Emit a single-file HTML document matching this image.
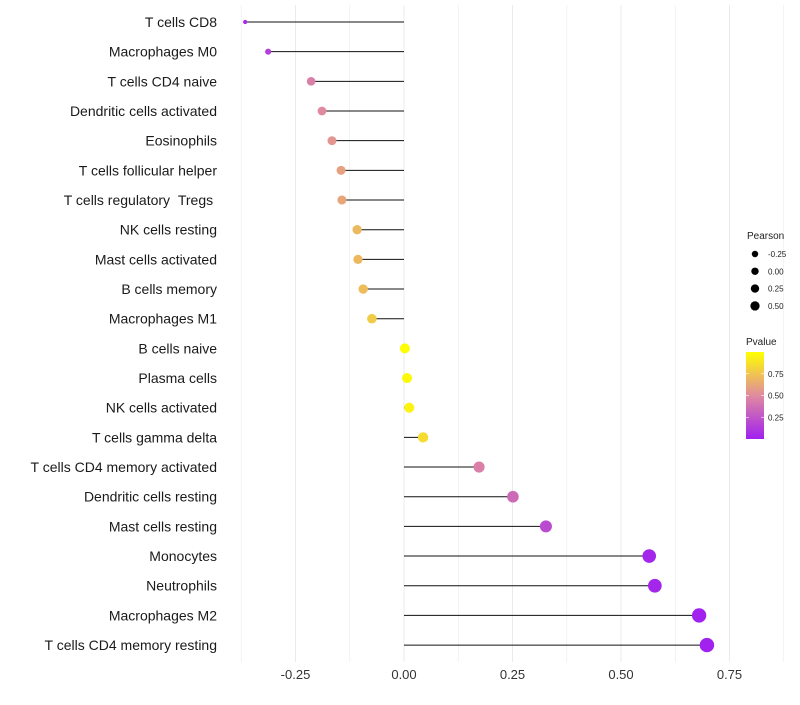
<!DOCTYPE html>
<html><head><meta charset="utf-8"><style>
body{margin:0;background:#fff;font-family:"Liberation Sans",sans-serif}
</style></head><body>
<svg id="c" width="800" height="700" xmlns="http://www.w3.org/2000/svg"></svg>
<script>
const categories=["T cells CD8","Macrophages M0","T cells CD4 naive","Dendritic cells activated","Eosinophils","T cells follicular helper","T cells regulatory\u00a0\u00a0Tregs\u00a0","NK cells resting","Mast cells activated","B cells memory","Macrophages M1","B cells naive","Plasma cells","NK cells activated","T cells gamma delta","T cells CD4 memory activated","Dendritic cells resting","Mast cells resting","Monocytes","Neutrophils","Macrophages M2","T cells CD4 memory resting"];
const pearson=[-0.366,-0.313,-0.214,-0.189,-0.166,-0.145,-0.143,-0.108,-0.106,-0.094,-0.074,0.002,0.007,0.012,0.044,0.173,0.251,0.327,0.565,0.578,0.68,0.698];
const pvalue=[0.05,0.15,0.45,0.5,0.55,0.6,0.62,0.7,0.7,0.72,0.78,0.99,0.97,0.95,0.85,0.45,0.35,0.2,0.03,0.03,0.01,0.01];
const xTicks=[-0.25,0,0.25,0.5,0.75];
const xTickLabels=["-0.25","0.00","0.25","0.50","0.75"];
const sizeLegend=[-0.25,0,0.25,0.5];
const sizeLegendLabels=["-0.25","0.00","0.25","0.50"];
const colorTicks=[0.75,0.5,0.25];
const colorTickLabels=["0.75","0.50","0.25"];

const NS="http://www.w3.org/2000/svg",svg=document.getElementById('c');
function el(t,a,p){const e=document.createElementNS(NS,t);for(const k in a)e.setAttribute(k,a[k]);(p||svg).appendChild(e);return e;}
const x=v=>404+v*434;
const y=i=>22+i*29.67;
const r=v=>Math.max(1.5,5+3.2*v-(v<-0.25?15*(-0.25-v):0));
function col(p){const stops=[[0,[160,32,240]],[0.5,[224,138,160]],[1,[255,255,0]]];
 let a=stops[0],b=stops[1];if(p>0.5){a=stops[1];b=stops[2];}
 const t=(p-a[0])/(b[0]-a[0]);const c=a[1].map((v,k)=>Math.round(v+(b[1][k]-v)*t));return `rgb(${c})`;}
for(let g=-0.375;g<=0.875;g+=0.125){const gl=el('line',{x1:x(g),x2:x(g),y1:5,y2:662,stroke:'#ebebeb','stroke-width':g*8%2==0?1:0.6});
}
xTicks.forEach((v,i)=>{const t=el('text',{x:x(v),y:679,'text-anchor':'middle','font-size':13,fill:'#333'});t.textContent=xTickLabels[i];
});
categories.forEach((c,i)=>{
 const t=el('text',{x:217,y:y(i)+5,'text-anchor':'end','font-size':14,fill:'#1a1a1a'});t.textContent=c;
 
 const l=el('line',{x1:x(0),x2:x(pearson[i]),y1:y(i),y2:y(i),stroke:'#111','stroke-width':1});
 
 const d=el('circle',{cx:x(pearson[i]),cy:y(i),r:r(pearson[i]),fill:col(pvalue[i])});
 
});
let t=el('text',{x:747,y:239,'font-size':10,fill:'#222'});t.textContent='Pearson';

sizeLegend.forEach((v,i)=>{const yy=254+i*17.3;
 const c=el('circle',{cx:755,cy:yy,r:3.7+1.9*v,fill:'#000'});
 const tt=el('text',{x:768,y:yy+3,'font-size':8,fill:'#222'});tt.textContent=sizeLegendLabels[i];
 });
t=el('text',{x:746,y:345,'font-size':10,fill:'#222'});t.textContent='Pvalue';

const defs=el('defs',{});const lg=el('linearGradient',{id:'g',x1:0,y1:1,x2:0,y2:0},defs);
[[0,col(0)],[0.5,col(0.5)],[1,col(1)]].forEach(s=>el('stop',{offset:s[0],'stop-color':s[1]},lg));
const bar=el('rect',{x:746,y:352,width:18,height:87,fill:'url(#g)'});

colorTicks.forEach((v,i)=>{const yy=439-v*87;
 el('line',{x1:746,x2:749,y1:yy,y2:yy,stroke:'#fff','stroke-width':0.6});el('line',{x1:761,x2:764,y1:yy,y2:yy,stroke:'#fff','stroke-width':0.6});
 const tt=el('text',{x:768,y:yy+3,'font-size':8,fill:'#222'});tt.textContent=colorTickLabels[i];
 });
</script></body></html>
